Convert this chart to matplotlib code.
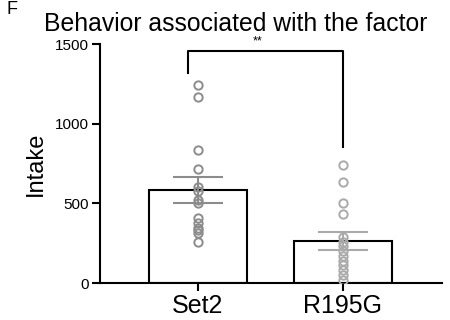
import matplotlib
matplotlib.use("Agg")
import matplotlib.pyplot as plt
import numpy as np

plt.rcParams["font.family"] = ["Liberation Sans", "DejaVu Sans"]

groups = ["Set2", "R195G"]
means = [584, 264]
sems = [82, 57]
set2_points = [1240, 1165, 835, 715, 605, 580, 520, 505, 405, 375, 345, 330, 315, 255]
r195g_points = [741, 636, 505, 430, 290, 260, 230, 200, 170, 140, 110, 80, 50, 20]
point_colors = ["#8c8c8c", "#aaaaaa"]
title = "Behavior associated with the factor"

fig = plt.figure(figsize=(4.5, 3.2), dpi=100)
ax = fig.add_axes([0.2222, 0.1156, 0.7598, 0.7469])

x = np.arange(len(groups))
ax.bar(x, means, width=0.676, color="white", edgecolor="black", linewidth=1.5, zorder=1)

for i, pts in enumerate([set2_points, r195g_points]):
    ax.errorbar(x[i], means[i], yerr=sems[i], fmt="none", ecolor=point_colors[i],
                elinewidth=1.5, capsize=18, capthick=1.5, zorder=2)
    ax.plot([x[i]] * len(pts), pts, "o", mfc="none", mec=point_colors[i],
            ms=6, mew=1.4, zorder=3)

# significance bracket
ax.plot([-0.07, -0.07, 1.0, 1.0], [1320, 1456, 1456, 856], color="black", lw=1.5,
        clip_on=False, zorder=4)
ax.text(0.41, 1478, "**", ha="center", va="bottom", fontsize=9)

ax.set_xlim(-0.676, 1.683)
ax.set_ylim(0, 1500)
ax.set_yticks([0, 500, 1000, 1500])
ax.set_xticks(x)
ax.set_xticklabels(groups, fontsize=18)
ax.tick_params(axis="y", labelsize=11, width=1.5, length=6, pad=2)
ax.tick_params(axis="x", width=1.5, length=6, pad=2)
ax.set_ylabel("Intake", fontsize=17, labelpad=6)
for s in ["top", "right"]:
    ax.spines[s].set_visible(False)
for s in ["left", "bottom"]:
    ax.spines[s].set_linewidth(1.5)

fig.text(0.524, 0.903, title, ha="center", va="baseline", fontsize=17.8)
fig.text(0.015, 0.956, "F", ha="left", va="baseline", fontsize=13)

fig.savefig("out.png", dpi=100)
